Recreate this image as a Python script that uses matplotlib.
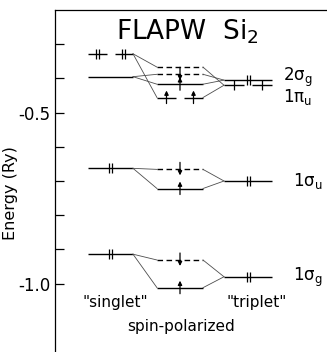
import matplotlib
matplotlib.use('Agg')
import matplotlib.pyplot as plt
from matplotlib.ticker import FixedLocator

plt.rcParams['font.family'] = ['DejaVu Sans']
plt.rcParams['axes.unicode_minus'] = False

# levels (Ry)
orbitals = ['2σ$_{\\rm g}$', '1π$_{\\rm u}$', '1σ$_{\\rm u}$', '1σ$_{\\rm g}$']
degeneracy = [1, 2, 1, 1]
e_singlet = [-0.395, -0.328, -0.663, -0.914]
e_up = [-0.417, -0.456, -0.722, -1.012]
e_down = [-0.388, -0.367, -0.666, -0.931]
e_triplet = [-0.405, -0.420, -0.700, -0.980]
# 2 = paired electrons, 1 = one electron, 0 = empty
occ_singlet = [0, 2, 2, 2]
occ_up = [1, 1, 1, 1]
occ_down = [1, 0, 1, 1]
occ_triplet = [2, 1, 2, 2]
label_e = [-0.397, -0.455, -0.701, -0.982]

# layout (x in pixel-like units)
X_S = (88, 133)
X_P = (157, 203)
X_T = (224, 272)
LABEL_X = [283, 283, 293, 293]
PX = 0.1 / 34.2   # one pixel in Ry

fig = plt.figure(figsize=(3.27, 3.52), dpi=100)
ax = fig.add_axes([55 / 327, 0, 272 / 327, 342 / 352])
ax.set_xlim(55, 327)
ax.set_ylim(-1.2, -0.2)


def arrow(x, e, up):
    if up:
        a, b = e - 6 * PX, e + 7 * PX
    else:
        a, b = e + 7 * PX, e - 6 * PX
    ax.annotate('', xy=(x, b), xytext=(x, a),
                arrowprops=dict(arrowstyle='-|>', lw=0.9, color='k',
                                mutation_scale=6, shrinkA=0, shrinkB=0))


def level(xr, e, occ, deg, mark, dashed=False):
    x0, x1 = xr
    if deg == 2 and occ > 0:
        mid = (x0 + x1) / 2
        segs = [(x0, mid - 4), (mid + 4, x1)]
    else:
        segs = [(x0, x1)]
    for a, b in segs:
        ax.plot([a, b], [e, e], color='k', lw=1.0,
                ls=(0, (4, 2.5)) if dashed else '-', solid_capstyle='butt')
        xm = (a + b) / 2
        if occ == 0:
            continue
        if mark == 'bar':
            xs = [xm - 1.5, xm + 1.5] if occ == 2 else [xm]
            ax.plot(xs, [e] * len(xs), ls='none', marker='|', ms=6.5,
                    mew=0.9, color='k')
        else:
            arrow(xm, e, mark == 'up')


for i in range(len(orbitals)):
    level(X_S, e_singlet[i], occ_singlet[i], degeneracy[i], 'bar')
    level(X_P, e_up[i], occ_up[i], degeneracy[i], 'up')
    level(X_P, e_down[i], occ_down[i], degeneracy[i], 'down', dashed=True)
    level(X_T, e_triplet[i], occ_triplet[i], degeneracy[i], 'bar')
    # connecting lines
    for e_sp in (e_up[i], e_down[i]):
        ax.plot([X_S[1], X_P[0]], [e_singlet[i], e_sp], color='0.3', lw=0.6)
        ax.plot([X_P[1], X_T[0]], [e_sp, e_triplet[i]], color='0.3', lw=0.6)
    ax.text(LABEL_X[i], label_e[i], orbitals[i], fontsize=12,
            ha='left', va='center')

ax.text(187, -0.265, 'FLAPW  Si$_2$', fontsize=19, ha='center', va='center')
ax.text(115, -1.055, '"singlet"', fontsize=11, ha='center', va='center')
ax.text(257, -1.055, '"triplet"', fontsize=11, ha='center', va='center')
ax.text(181, -1.125, 'spin-polarized', fontsize=11, ha='center', va='center')

for s in ('right', 'bottom'):
    ax.spines[s].set_visible(False)
ax.spines['left'].set_linewidth(0.9)
ax.spines['top'].set_linewidth(0.9)
ax.set_xticks([])
ax.yaxis.set_major_locator(FixedLocator([-1.0, -0.5]))
ax.yaxis.set_minor_locator(FixedLocator([-0.3, -0.4, -0.6, -0.7, -0.8, -0.9]))
ax.set_yticklabels(['-1.0', '-0.5'])
ax.tick_params(axis='y', which='both', direction='in', length=6.5, width=0.9,
               labelsize=12, pad=3)
ax.set_ylabel('Energy (Ry)', fontsize=11.5)
ax.yaxis.set_label_coords(-0.136, 0.465)

fig.savefig('out.png', dpi=100)
